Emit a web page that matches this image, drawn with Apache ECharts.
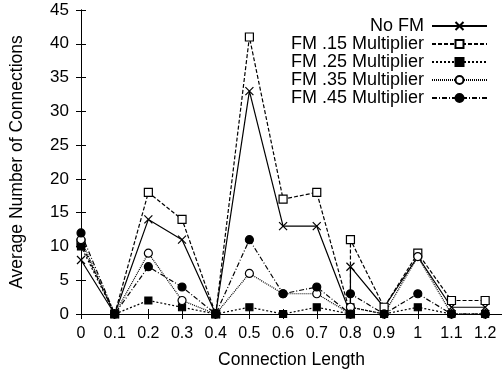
<!DOCTYPE html>
<html>
<head>
<meta charset="utf-8">
<script src="https://cdn.jsdelivr.net/npm/echarts@6/dist/echarts.min.js"></script>
<style>
  html, body { margin: 0; padding: 0; background: #fff; }
  #chart { width: 502px; height: 374px; }
</style>
</head>
<body>
<div id="chart"></div>
<script>
// connection lengths (0.8 appears twice in the source data)
const lengths = [0, 0.1, 0.2, 0.3, 0.4, 0.5, 0.6, 0.7, 0.8, 0.8, 0.9, 1, 1.1, 1.2];

const noFM   = [8,    0, 14, 11, 0, 33, 13, 13, 0, 7,  1, 8.5, 1, 1];
const fm15   = [10.5, 0, 18, 14, 0, 41, 17, 18, 0, 11, 1, 9,   2, 2];
const fm25   = [10,   0, 2,  1,  0, 1,  0,  1,  0, 1,  0, 1,   0, 0];
const fm35   = [11,   0, 9,  2,  0, 6,  3,  3,  0, 1,  0, 8.5, 0, 0];
const fm45   = [12,   0, 7,  4,  0, 11, 3,  4,  0, 3,  0, 3,   0, 0];

const seriesNames = ['No FM', 'FM .15 Multiplier', 'FM .25 Multiplier', 'FM .35 Multiplier', 'FM .45 Multiplier'];

const FONT = 'Liberation Sans';
const pairs = vals => vals.map((v, i) => [lengths[i], v]);

function makeSeries(name, vals, symbol, fill, dash, size) {
    return {
        name: name,
        type: 'line',
        data: pairs(vals),
        symbol: symbol,
        symbolSize: size,
        showAllSymbol: true,
        xAxisIndex: 0,
        yAxisIndex: 0,
        lineStyle: { color: '#000', width: 1.2, type: dash },
        itemStyle: { color: fill, borderColor: '#000', borderWidth: 1.2 },
        emphasis: { disabled: true }
    };
}

const chart = echarts.init(document.getElementById('chart'));
chart.setOption({
    animation: false,
    textStyle: { fontFamily: FONT, color: '#000' },
    grid: { left: 81, right: -3, top: 10, bottom: 60 },
    legend: {
        data: seriesNames,
        orient: 'vertical',
        align: 'right',
        right: 14,
        top: 17,
        padding: 0,
        itemWidth: 55,
        itemHeight: 10,
        itemGap: 0,
        selectedMode: false,
        textStyle: { fontSize: 18, lineHeight: 18, color: '#000', fontFamily: FONT, padding: [0, 3, 0, 0] }
    },
    xAxis: [{
        type: 'value',
        min: 0,
        max: 1.25,
        interval: 0.1,
        name: 'Connection Length',
        nameLocation: 'middle',
        nameGap: 37,
        nameTextStyle: { fontSize: 17.5, color: '#000' },
        axisLine: { lineStyle: { color: '#000', width: 1 } },
        axisTick: { inside: true, length: 5, lineStyle: { color: '#000' } },
        axisLabel: { fontSize: 16, color: '#000', margin: 12, showMaxLabel: false },
        splitLine: { show: false }
    }, {
        type: 'value',
        position: 'top',
        min: 0,
        max: 1.25,
        interval: 0.1,
        axisLine: { lineStyle: { color: '#000', width: 1 } },
        axisTick: { inside: true, length: 5, lineStyle: { color: '#000' } },
        axisLabel: { show: false },
        splitLine: { show: false }
    }],
    yAxis: [{
        type: 'value',
        min: 0,
        max: 45,
        interval: 5,
        name: 'Average Number of Connections',
        nameLocation: 'middle',
        nameGap: 55,
        nameTextStyle: { fontSize: 17.5, color: '#000' },
        axisLine: { show: true, lineStyle: { color: '#000', width: 1 } },
        axisTick: { show: true, inside: true, length: 5, lineStyle: { color: '#000' } },
        axisLabel: { fontSize: 17, color: '#000', margin: 12 },
        splitLine: { show: false }
    }, {
        type: 'value',
        position: 'right',
        min: 0,
        max: 45,
        interval: 5,
        axisLine: { show: true, lineStyle: { color: '#000', width: 1 } },
        axisTick: { show: true, inside: true, length: 5, lineStyle: { color: '#000' } },
        axisLabel: { show: false },
        splitLine: { show: false }
    }],
    series: [
        makeSeries(seriesNames[0], noFM, 'path://M0,0L10,10M10,0L0,10', 'none', 'solid', 8),
        makeSeries(seriesNames[1], fm15, 'rect', '#fff', [4, 2], 8),
        makeSeries(seriesNames[2], fm25, 'rect', '#000', [2, 2], 7),
        makeSeries(seriesNames[3], fm35, 'circle', '#fff', [1, 1], 8),
        makeSeries(seriesNames[4], fm45, 'circle', '#000', [5, 2, 1, 2], 8)
    ]
});
</script>
</body>
</html>
